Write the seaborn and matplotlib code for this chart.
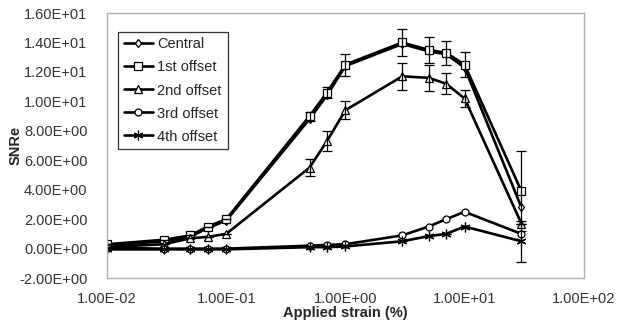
import numpy as np
import pandas as pd
import matplotlib
matplotlib.use("Agg")
import matplotlib.pyplot as plt
from matplotlib.ticker import FuncFormatter, FixedLocator
import seaborn as sns

# applied strain (%) and SNRe for each position
strain = [0.01, 0.03, 0.05, 0.07, 0.1, 0.5, 0.7, 1.0, 3.0, 5.0, 7.0, 10.0, 30.0]
central = [0.2, 0.5, 0.8, 1.4, 1.9, 8.8, 10.4, 12.4, 13.9, 13.4, 13.2, 12.3, 2.8]
offset1 = [0.3, 0.6, 0.9, 1.5, 2.0, 9.0, 10.6, 12.5, 14.0, 13.5, 13.3, 12.5, 3.9]
offset2 = [0.1, 0.3, 0.7, 0.8, 1.0, 5.5, 7.3, 9.4, 11.7, 11.6, 11.2, 10.2, 1.7]
offset3 = [0.05, 0.0, 0.0, 0.0, 0.0, 0.2, 0.25, 0.3, 0.9, 1.5, 2.0, 2.5, 1.0]
offset4 = [-0.05, -0.05, -0.05, -0.05, -0.05, 0.1, 0.1, 0.15, 0.5, 0.85, 1.0, 1.5, 0.5]

err1 = [0, 0, 0, 0, 0, 0.3, 0.4, 0.75, 0.9, 0.9, 0.8, 0.85, 2.7]
err2 = [0, 0, 0, 0, 0, 0.6, 0.7, 0.6, 0.9, 0.9, 0.7, 0.6, 0]
err4 = [0, 0, 0, 0, 0, 0, 0, 0, 0, 0, 0, 0, 1.4]

names = ["Central", "1st offset", "2nd offset", "3rd offset", "4th offset"]
series = [central, offset1, offset2, offset3, offset4]
marks = ["d", "s", "^", "o", (6, 2, 0)]
msizes = [4.5, 5.5, 5.5, 5, 7]

sns.set_style("white")
plt.rcParams["font.family"] = ["Liberation Sans", "DejaVu Sans"]

fig = plt.figure(figsize=(6.27, 3.26), dpi=100)
ax = fig.add_axes([0.1707, 0.147, 0.7603, 0.813])

for name, vals, m, ms in zip(names, series, marks, msizes):
    df = pd.DataFrame({"strain": strain, "snr": vals})
    sns.lineplot(data=df, x="strain", y="snr", ax=ax, color="black", lw=1.9,
                 marker=m, markersize=ms, mfc="white", mec="black", mew=0.9,
                 label=name)

for vals, err in [(offset1, err1), (offset2, err2), (offset4, err4)]:
    ax.errorbar(strain, vals, yerr=err, fmt="none", ecolor="black",
                elinewidth=0.9, capsize=3.5, capthick=0.9)

ax.set_xscale("log")
ax.set_xlim(0.01, 100)
ax.set_ylim(-2, 16)
ax.xaxis.set_major_locator(FixedLocator([0.01, 0.1, 1, 10, 100]))
ax.xaxis.set_minor_locator(FixedLocator([]))
ax.set_yticks(np.arange(-2, 17, 2))
ax.xaxis.set_major_formatter(FuncFormatter(lambda v, p: f"{v:.2E}"))
ax.yaxis.set_major_formatter(FuncFormatter(lambda v, p: f"{v:.2E}"))
ax.tick_params(labelsize=10.5, colors="#333333", length=0)
ax.tick_params(axis="y", pad=14)
ax.tick_params(axis="x", pad=10)

for s in ax.spines.values():
    s.set_color("#b0b0b0")
    s.set_linewidth(1)

ax.set_xlabel("Applied strain (%)", fontsize=10.5, fontweight="bold", labelpad=0)
ax.set_ylabel("SNRe", fontsize=10.5, fontweight="bold")
ax.yaxis.set_label_coords(-0.177, 0.5)

leg = ax.legend(loc="upper left", bbox_to_anchor=(0.023, 0.93), frameon=True,
                fancybox=False, edgecolor="black", fontsize=10.5,
                handlelength=2.0, handletextpad=0.3, labelspacing=0.62,
                borderpad=0.4, borderaxespad=0)
leg.get_frame().set_linewidth(0.9)

fig.savefig("out.png", dpi=100, facecolor="white")
